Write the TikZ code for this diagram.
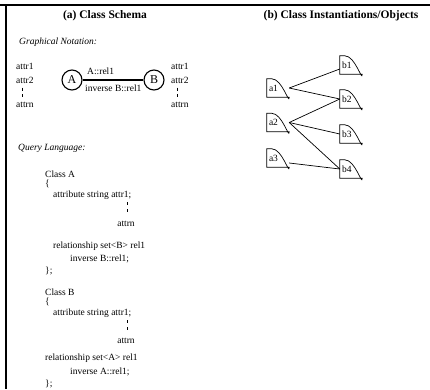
\documentclass[tikz,border=0pt]{standalone}
\usepackage{fontspec}
\setmainfont{Liberation Serif}
\begin{document}
\begin{tikzpicture}[x=1pt,y=-1pt,
  title/.style={font=\fontsize{11.5}{13}\selectfont\bfseries, inner sep=0pt},
  heading/.style={font=\fontsize{9.5}{11}\selectfont\itshape, anchor=west, inner sep=0pt},
  gtxt/.style={font=\fontsize{9.5}{11}\selectfont, anchor=west, inner sep=0pt},
  txt/.style={font=\fontsize{9.5}{11}\selectfont, anchor=west, inner sep=0pt},
  ctxt/.style={font=\fontsize{9.5}{11}\selectfont, inner sep=0pt},
  cls/.style={circle, draw, line width=1.1pt, minimum size=20pt, inner sep=0pt,
              font=\fontsize{12}{13}\selectfont},
  obj/.style={rectangle, minimum width=22pt, minimum height=18pt, inner sep=1pt,
              font=\fontsize{9.5}{10}\selectfont, align=left, text width=18pt},
  objline/.style={line width=0.7pt},
  link/.style={line width=0.7pt},
  tick/.style={line width=0.6pt}]
\useasboundingbox (0,0) rectangle (430,389);

% frame
\draw[line width=1.3pt] (0,5) -- (430,5);
\draw[line width=1.1pt] (6,5) -- (6,389);

% titles
\node[title] (ta) at (105,16) {(a) Class Schema};
\node[title] (tb) at (341,16) {(b) Class Instantiations/Objects};

% graphical notation
\node[heading] (gn) at (19,42) {Graphical Notation:};

\node[gtxt] (la1) at (16,66) {attr1};
\node[gtxt] (la2) at (16,80) {attr2};
\node[gtxt] (lan) at (16,105) {attrn};
\draw[tick] (22,87.5) -- (22,90.5) (22,94) -- (22,97);

\node[cls] (A) at (72,80) {A};
\node[cls] (B) at (154,80) {B};
\draw[line width=1.8pt] (A) -- (B);
\node[gtxt] (r1) at (87,71) {A::rel1};
\node[gtxt] (r2) at (85,88) {inverse B::rel1};

\node[gtxt] (ra1) at (171,66) {attr1};
\node[gtxt] (ra2) at (171,80) {attr2};
\node[gtxt] (ran) at (171,105) {attrn};
\draw[tick] (177,87.5) -- (177,90.5) (177,94) -- (177,97);

% query language
\node[heading] (ql) at (18,148) {Query Language:};

\node[txt] (ca) at (45,174) {Class A};
\node[txt] (cao) at (45,184) {\{};
\node[txt] (caa) at (53,195) {attribute string attr1;};
\draw[tick] (127,202) -- (127,205) (127,209) -- (127,212);
\node[ctxt] (can) at (126,224) {attrn};
\node[txt] (car) at (53,246) {relationship set<B> rel1};
\node[txt] (cai) at (70,259) {inverse B::rel1;};
\node[txt] (cac) at (45,271) {\};};

\node[txt] (cb) at (45,292) {Class B};
\node[txt] (cbo) at (45,302) {\{};
\node[txt] (cba) at (53,313) {attribute string attr1;};
\draw[tick] (127,320) -- (127,323) (127,327) -- (127,330);
\node[ctxt] (cbn) at (126,341) {attrn};
\node[txt] (cbr) at (45,358) {relationship set<A> rel1};
\node[txt] (cbi) at (70,372) {inverse A::rel1;};
\node[txt] (cbc) at (45,384) {\};};

% object instances
\node[obj] (a1) at (278,88) {a1};
\node[obj] (a2) at (278,122.5) {a2};
\node[obj] (a3) at (278,158) {a3};
\node[obj] (b1) at (351,65) {b1};
\node[obj] (b2) at (351,99) {b2};
\node[obj] (b3) at (351,134) {b3};
\node[obj] (b4) at (351,169) {b4};

\foreach \n in {a1,a2,a3,b1,b2,b3,b4} {
  \draw[objline] (\n.south west) -- (\n.north west) -- ([xshift=5pt]\n.north west)
    .. controls ([xshift=-7pt]\n.north east) and ([yshift=-8pt]\n.south east) .. (\n.south east)
    -- cycle;
}

\draw[link] (a1.east) -- ([yshift=-4pt]b1.west);
\draw[link] (a1.east) -- (b2.west);
\draw[link] (a2.east) -- (b2.west);
\draw[link] (a2.east) -- (b3.west);
\draw[link] (a2.east) -- (b4.west);
\draw[link] ([yshift=-5pt]a3.east) -- (b4.west);
\end{tikzpicture}
\end{document}
